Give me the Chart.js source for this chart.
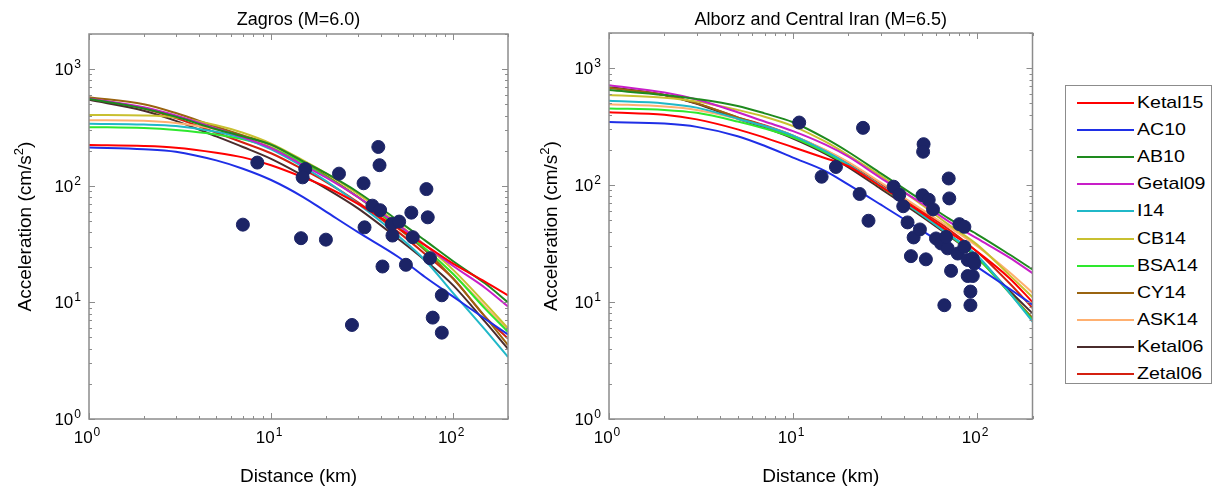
<!DOCTYPE html>
<html>
<head>
  <style>
    body {
      margin: 0;
      background: #ffffff;
      font-family: "Liberation Sans", Arial, sans-serif;
    }
    #wrap { position: relative; width: 1217px; height: 489px; }
    canvas { position: absolute; top: 0; }
    #leftChart { left: 0; }
    #rightChart { left: 520px; }
    #legend {
      position: absolute;
      left: 1065px; top: 85px;
      width: 147px; height: 299px;
      border: 1px solid #8c8c8c;
      box-sizing: border-box;
    }
    .item { position: absolute; left: 0; height: 20px; width: 100%; }
    .item .swatch { position: absolute; left: 11px; top: 9px; width: 57px; height: 2px; }
    .item .name {
      position: absolute; left: 71px; top: 0;
      font-size: 17px; line-height: 20px; color: #000;
      transform: scaleX(1.15); transform-origin: left center;
      white-space: nowrap;
    }
  </style>
  <script src="https://cdn.jsdelivr.net/npm/chart.js"></script>
</head>
<body>
<div id="wrap">
  <canvas id="leftChart" width="520" height="489"></canvas>
  <canvas id="rightChart" width="520" height="489"></canvas>
  <div id="legend"></div>
</div>
<script>
  const distances = [1, 2, 3, 5, 7, 10, 15, 20, 30, 50, 70, 100, 150, 200];

  const modelNames = ['Ketal15', 'AC10', 'AB10', 'Getal09', 'I14', 'CB14', 'BSA14', 'CY14', 'ASK14', 'Ketal06', 'Zetal06'];
  const modelColors = ['#ff0000', '#1f2fe6', '#1e8a1e', '#c81ec8', '#20b8c8', '#c8c030', '#2ee82e', '#9a6410', '#ffb070', '#4a2c2c', '#d42010'];
  const pointColor = '#1c2466';

  // Zagros (M=6.0), acceleration in cm/s2
  const zagrosKetal15 = [223, 219, 212, 192, 175, 150, 118, 98, 70, 43, 31, 21.5, 15, 11.5];
  const zagrosAC10    = [213, 206, 196, 165, 140, 112, 80, 60, 40, 24.5, 16.5, 11.2, 7.2, 5.3];
  const zagrosAB10    = [555, 460, 390, 305, 265, 225, 162, 128, 88, 50, 34, 22.5, 14.5, 10];
  const zagrosGetal09 = [560, 470, 400, 310, 260, 210, 150, 118, 80, 46, 31, 20.5, 13.3, 9.2];
  const zagrosI14     = [340, 335, 325, 290, 255, 205, 145, 110, 70, 37, 23, 12, 5.8, 3.4];
  const zagrosCB14    = [405, 400, 385, 330, 285, 230, 165, 128, 85, 47, 31, 19, 9.8, 6.0];
  const zagrosBSA14   = [318, 312, 300, 275, 250, 212, 155, 120, 80, 44, 29, 17.5, 8.8, 5.6];
  const zagrosCY14    = [575, 500, 420, 320, 270, 225, 160, 122, 80, 43, 28, 16, 7.5, 4.3];
  const zagrosASK14   = [365, 360, 345, 305, 270, 220, 158, 122, 80, 44, 29, 17.5, 9.2, 5.8];
  const zagrosKetal06 = [545, 440, 360, 265, 215, 170, 122, 95, 64, 35, 23, 14, 6.8, 4.0];
  const zagrosZetal06 = [560, 460, 380, 285, 235, 190, 138, 108, 72, 40, 26, 16, 7.5, 4.9];

  const zagrosObsDist = [7.0, 8.4, 14.6, 15.4, 14.9, 20, 23.6, 32.2, 27.8, 38.8, 39.4, 36, 39.7, 32.6, 40.9, 46, 50.5, 46.4, 58.9, 60, 55, 71.3, 72.5, 74.6, 86.6, 77.2, 86.6];
  const zagrosObsPga  = [46.4, 158, 35.5, 139, 118, 34.5, 127, 105, 6.4, 215, 150, 67.5, 61.7, 44, 20.3, 47, 49.3, 37.4, 58.8, 36.2, 21, 93.6, 53.6, 23.9, 11.5, 7.4, 5.5];

  // Alborz and Central Iran (M=6.5)
  const alborzKetal15 = [420, 400, 365, 300, 255, 211, 170, 145, 97, 58, 40, 27, 16, 10];
  const alborzAC10    = [346, 336, 315, 262, 217, 172, 132, 101, 68, 41, 29, 20, 13, 9.5];
  const alborzAB10    = [650, 590, 545, 475, 411, 345, 251, 192, 126, 74, 52, 38, 25.5, 19];
  const alborzGetal09 = [716, 620, 540, 420, 350, 290, 222, 175, 115, 70, 49, 35, 24, 17.7];
  const alborzI14     = [526, 500, 460, 370, 320, 265, 195, 150, 98, 56, 38, 25, 12, 6.8];
  const alborzCB14    = [590, 560, 520, 440, 385, 320, 235, 180, 120, 68, 46, 31, 17, 11];
  const alborzBSA14   = [452, 440, 415, 350, 305, 255, 190, 148, 97, 56, 38, 24, 12, 7.0];
  const alborzCY14    = [680, 590, 500, 380, 320, 260, 192, 148, 97, 56, 38, 24, 12, 7.3];
  const alborzASK14   = [492, 470, 440, 370, 320, 265, 200, 157, 105, 62, 44, 30, 18, 12];
  const alborzKetal06 = [690, 590, 495, 370, 310, 250, 185, 142, 93, 54, 37, 24, 12.5, 8.0];
  const alborzZetal06 = [684, 590, 500, 380, 325, 265, 198, 155, 103, 60, 42, 27, 14.5, 8.9];

  const alborzObsDist = [10.8, 24, 14.3, 17.1, 23, 25.7, 35.2, 37.8, 39.7, 41.9, 45.2, 43.7, 51.2, 50.9, 50.5, 54.6, 57.6, 52.7, 48.9, 70.1, 70.6, 59.8, 63.7, 69.2, 80.1, 85.3, 78.5, 85.3, 88.9, 94.7, 72.2, 88.9, 94.7, 92, 66.4, 92, 96.7, 67.8];
  const alborzObsPga  = [343, 309, 118, 143, 84, 49.6, 97, 83, 66, 48, 35.7, 24.7, 224, 193, 82, 75, 62, 23.2, 41.8, 114, 77, 35, 31.7, 28.8, 46.4, 44, 26, 29.7, 22.9, 23.6, 18.5, 16.7, 16.7, 12.3, 9.4, 9.4, 21.4, 36.1];

  const xTicks = [1, 10, 100];
  const yTicks = [1, 10, 100, 1000];

  // border, inner tick marks and all the axis text
  const framePlugin = {
    id: 'frame',
    afterDraw(chart, args, opts) {
      const ctx = chart.ctx;
      const a = chart.chartArea;
      const xs = chart.scales.x, ys = chart.scales.y;
      ctx.save();
      ctx.strokeStyle = '#8c8c8c';
      ctx.lineWidth = 1.5;
      ctx.strokeRect(a.left, a.top, a.right - a.left, a.bottom - a.top);

      ctx.lineWidth = 1;
      ctx.beginPath();
      for (let dec = 1; dec <= 100; dec *= 10) {
        for (let m = 1; m <= 9; m++) {
          const v = dec * m;
          if (v > 200) break;
          const px = Math.round(xs.getPixelForValue(v)) + 0.5;
          const len = m === 1 ? 6 : 3;
          ctx.moveTo(px, a.bottom); ctx.lineTo(px, a.bottom - len);
          ctx.moveTo(px, a.top); ctx.lineTo(px, a.top + len);
        }
      }
      for (let dec = 1; dec <= 1000; dec *= 10) {
        for (let m = 1; m <= 9; m++) {
          const v = dec * m;
          if (v > 2000) break;
          const py = Math.round(ys.getPixelForValue(v)) + 0.5;
          const len = m === 1 ? 6 : 3;
          ctx.moveTo(a.left, py); ctx.lineTo(a.left + len, py);
          ctx.moveTo(a.right, py); ctx.lineTo(a.right - len, py);
        }
      }
      ctx.stroke();

      ctx.fillStyle = '#000';
      const base = '17px "Liberation Sans", Arial, sans-serif';
      const sup = '12px "Liberation Sans", Arial, sans-serif';
      function power(x, y, exp, align) {
        ctx.font = base;
        const w1 = ctx.measureText('10').width;
        ctx.font = sup;
        const w2 = ctx.measureText(String(exp)).width;
        let left = align === 'right' ? x - w1 - w2 - 1 : x - (w1 + w2 + 1) / 2;
        ctx.textAlign = 'left';
        ctx.textBaseline = 'alphabetic';
        ctx.font = base;
        ctx.fillText('10', left, y);
        ctx.font = sup;
        ctx.fillText(String(exp), left + w1 + 1, y - 7);
      }
      yTicks.forEach(v => power(a.left - 8, ys.getPixelForValue(v) + 6, Math.round(Math.log10(v)), 'right'));
      xTicks.forEach(v => power(xs.getPixelForValue(v) - 2, a.bottom + 24, Math.round(Math.log10(v)), 'center'));

      const cx = (a.left + a.right) / 2;
      ctx.textAlign = 'center';
      ctx.font = '18px "Liberation Sans", Arial, sans-serif';
      ctx.fillText(opts.title, cx, 25);
      ctx.font = '19px "Liberation Sans", Arial, sans-serif';
      ctx.fillText('Distance (km)', cx, a.bottom + 63);

      // rotated y title with superscript 2
      const cy = (a.top + a.bottom) / 2;
      ctx.translate(opts.yTitleX, cy);
      ctx.rotate(-Math.PI / 2);
      const big = '19px "Liberation Sans", Arial, sans-serif';
      const small = '13px "Liberation Sans", Arial, sans-serif';
      ctx.font = big;
      const t1 = 'Acceleration (cm/s', t3 = ')';
      const w1 = ctx.measureText(t1).width, w3 = ctx.measureText(t3).width;
      ctx.font = small;
      const w2 = ctx.measureText('2').width;
      let start = -(w1 + w2 + w3) / 2;
      ctx.textAlign = 'left';
      ctx.font = big;
      ctx.fillText(t1, start, 0);
      ctx.font = small;
      ctx.fillText('2', start + w1, -8);
      ctx.font = big;
      ctx.fillText(t3, start + w1 + w2, 0);
      ctx.restore();
    }
  };

  function makeChart(id, curves, obsDist, obsPga, title, yTitleX, padRight, padTop) {
    const datasets = [{
      type: 'scatter',
      label: 'observed',
      data: obsDist.map((d, i) => ({ x: d, y: obsPga[i] })),
      backgroundColor: pointColor,
      borderColor: pointColor,
      pointRadius: 6.5,
      order: 0
    }];
    curves.forEach((vals, k) => {
      datasets.push({
        type: 'line',
        label: modelNames[k],
        data: distances.map((d, i) => ({ x: d, y: vals[i] })),
        borderColor: modelColors[k],
        borderWidth: 2,
        pointRadius: 0,
        cubicInterpolationMode: 'monotone',
        fill: false,
        order: 1
      });
    });
    return new Chart(document.getElementById(id), {
      type: 'line',
      data: { datasets: datasets },
      options: {
        responsive: false,
        animation: false,
        layout: { padding: { left: 89, right: padRight, top: padTop, bottom: 70 } },
        plugins: {
          legend: { display: false },
          tooltip: { enabled: false },
          frame: { title: title, yTitleX: yTitleX }
        },
        scales: {
          x: {
            type: 'logarithmic', min: 1, max: 200,
            ticks: { display: false },
            grid: { display: false, drawTicks: false },
            border: { display: false }
          },
          y: {
            type: 'logarithmic', min: 1, max: 2000,
            ticks: { display: false },
            grid: { display: false, drawTicks: false },
            border: { display: false }
          }
        }
      },
      plugins: [framePlugin]
    });
  }

  makeChart('leftChart',
    [zagrosKetal15, zagrosAC10, zagrosAB10, zagrosGetal09, zagrosI14, zagrosCB14, zagrosBSA14, zagrosCY14, zagrosASK14, zagrosKetal06, zagrosZetal06],
    zagrosObsDist, zagrosObsPga, 'Zagros (M=6.0)', 31, 12, 34);
  makeChart('rightChart',
    [alborzKetal15, alborzAC10, alborzAB10, alborzGetal09, alborzI14, alborzCB14, alborzBSA14, alborzCY14, alborzASK14, alborzKetal06, alborzZetal06],
    alborzObsDist, alborzObsPga, 'Alborz and Central Iran (M=6.5)', 37, 7, 33);

  // shared legend
  const legend = document.getElementById('legend');
  modelNames.forEach((name, i) => {
    const item = document.createElement('div');
    item.className = 'item';
    item.style.top = (7 + i * 27.1) + 'px';
    item.innerHTML = '<span class="swatch" style="background:' + modelColors[i] + '"></span><span class="name">' + name + '</span>';
    legend.appendChild(item);
  });
</script>
</body>
</html>
